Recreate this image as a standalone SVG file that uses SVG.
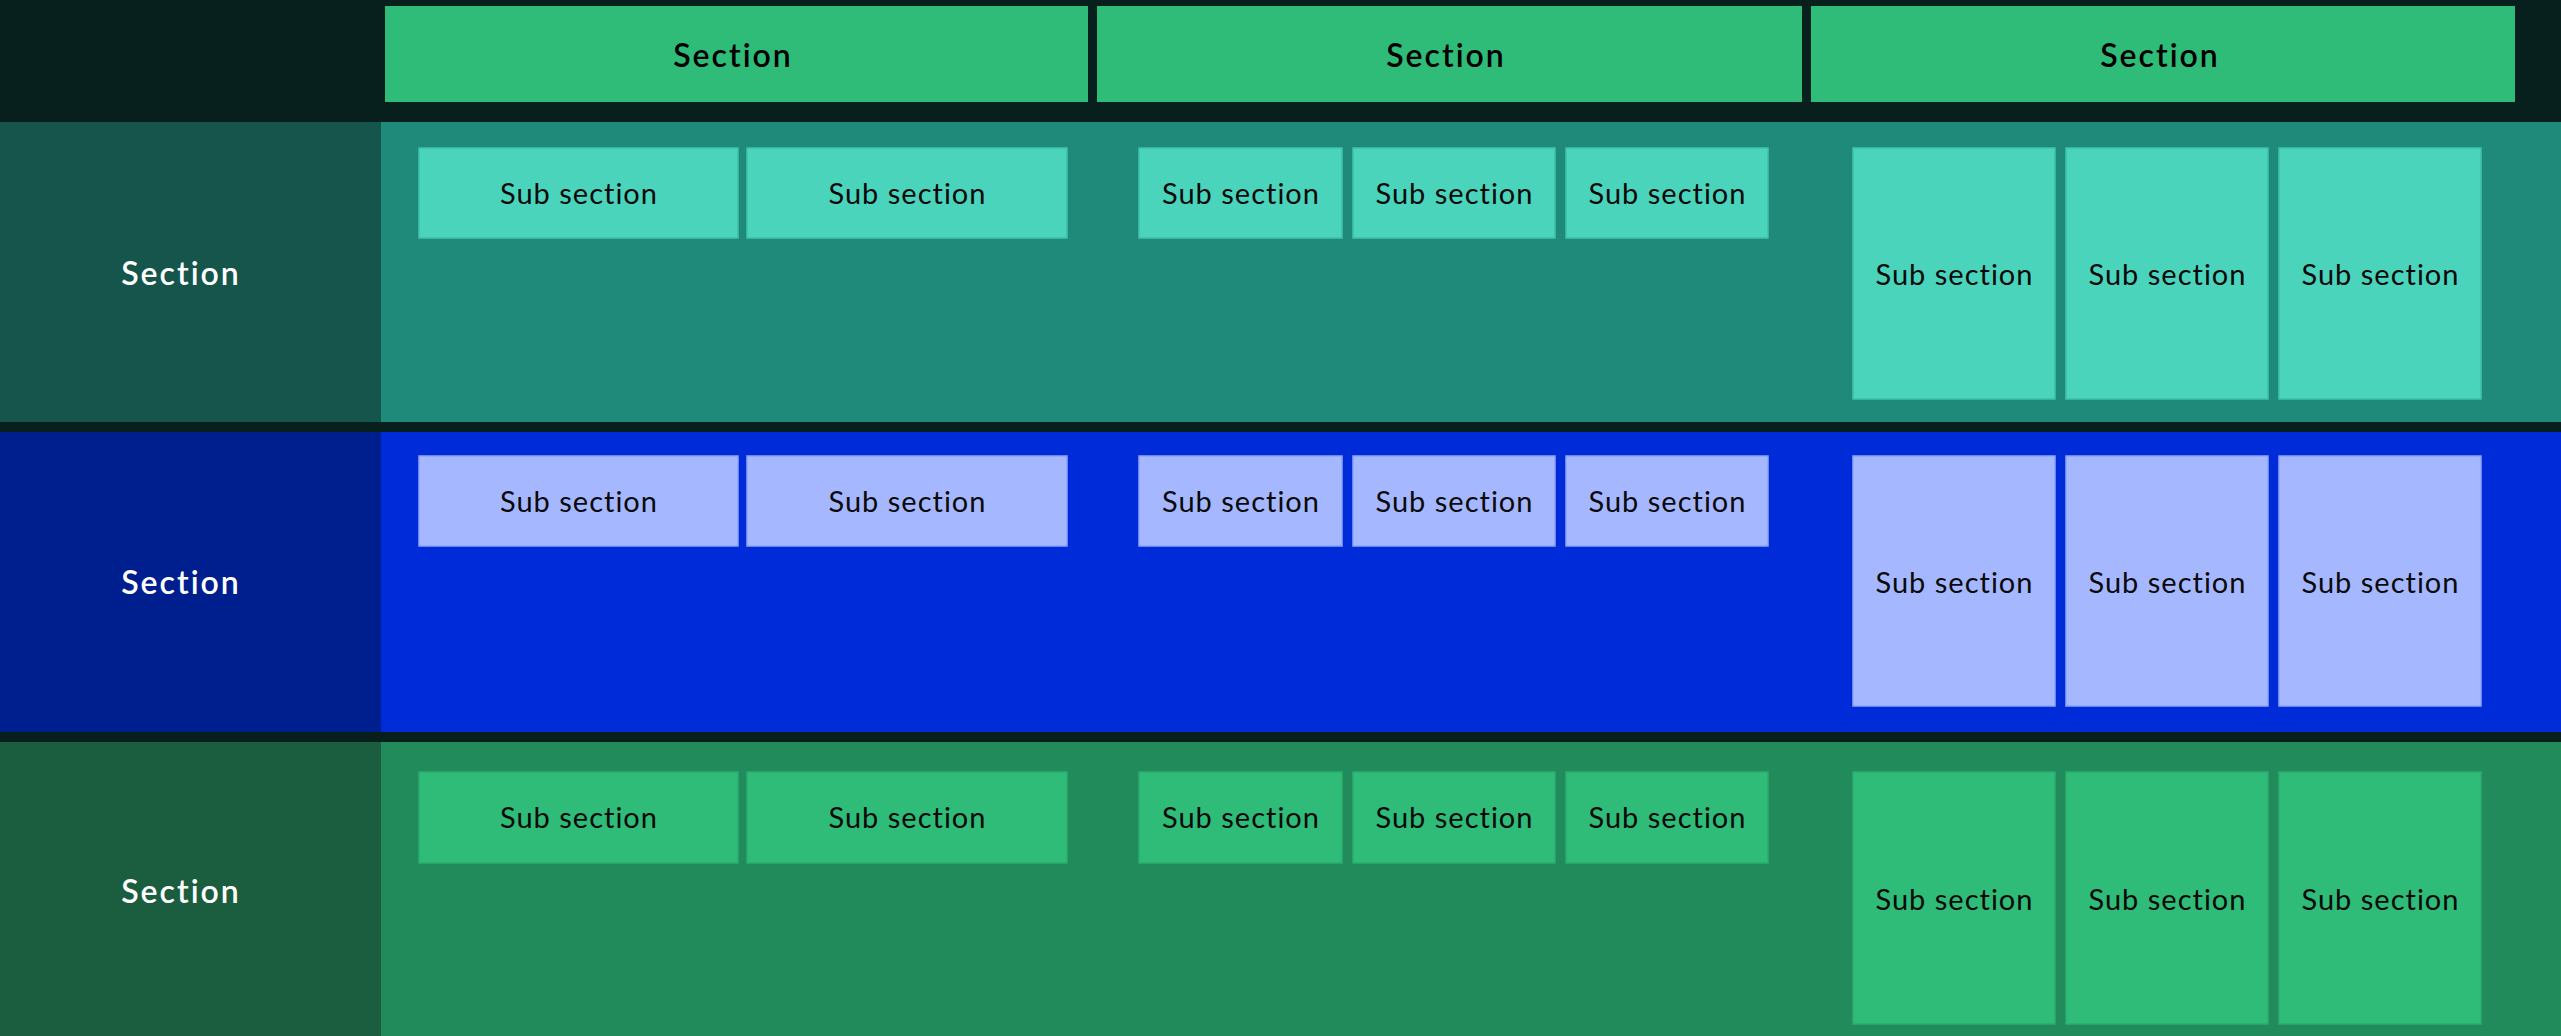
<svg xmlns="http://www.w3.org/2000/svg" width="2561" height="1036" viewBox="0 0 2561 1036">
<style>
.sec{font-family:"Lato","Liberation Sans",sans-serif;font-weight:600;font-size:32px;letter-spacing:2px;text-anchor:middle}
.sub{font-family:"Lato","Liberation Sans",sans-serif;font-weight:400;font-size:29px;letter-spacing:1px;fill:#0a0a0a;text-anchor:middle}
.hdr{fill:#2fbb78}
.b1{fill:#4ad4bc;stroke:#3fc2aa;stroke-width:1.5}
.b2{fill:#a5b8ff;stroke:#8ea4fb;stroke-width:1.5}
.b3{fill:#2fbb78;stroke:#2cad70;stroke-width:1.5}
</style>
<rect x="0" y="0" width="2561" height="1036" fill="#08201d"/>
<g id="header-1"><rect class="hdr" x="385" y="6" width="703" height="96"/><text class="sec" x="733" y="67" fill="#000">Section</text></g>
<g id="header-2"><rect class="hdr" x="1097" y="6" width="705" height="96"/><text class="sec" x="1446" y="67" fill="#000">Section</text></g>
<g id="header-3"><rect class="hdr" x="1811" y="6" width="704" height="96"/><text class="sec" x="2160" y="67" fill="#000">Section</text></g>

<g id="row-1">
<rect x="0" y="122" width="381" height="300" fill="#16554c"/>
<rect x="381" y="122" width="2180" height="300" fill="#208a7a"/>
<text class="sec" x="181" y="285" fill="#fff">Section</text>
</g>
<g id="row-2">
<rect x="0" y="432" width="381" height="300" fill="#001f8f"/>
<rect x="381" y="432" width="2180" height="300" fill="#002bd9"/>
<text class="sec" x="181" y="594" fill="#fff">Section</text>
</g>
<g id="row-3">
<rect x="0" y="742" width="381" height="294" fill="#1a5e3f"/>
<rect x="381" y="742" width="2180" height="294" fill="#228b5c"/>
<text class="sec" x="181" y="903" fill="#fff">Section</text>
</g>

<g id="r1-s1"><rect class="b1" x="419" y="148" width="319" height="90"/><text class="sub" x="579" y="204">Sub section</text></g>
<g id="r1-s2"><rect class="b1" x="747" y="148" width="320" height="90"/><text class="sub" x="907.5" y="204">Sub section</text></g>
<g id="r1-s3"><rect class="b1" x="1139" y="148" width="203" height="90"/><text class="sub" x="1241" y="204">Sub section</text></g>
<g id="r1-s4"><rect class="b1" x="1353" y="148" width="202" height="90"/><text class="sub" x="1454.5" y="204">Sub section</text></g>
<g id="r1-s5"><rect class="b1" x="1566" y="148" width="202" height="90"/><text class="sub" x="1667.5" y="204">Sub section</text></g>
<g id="r1-s6"><rect class="b1" x="1853" y="148" width="202" height="251"/><text class="sub" x="1954.5" y="285">Sub section</text></g>
<g id="r1-s7"><rect class="b1" x="2066" y="148" width="202" height="251"/><text class="sub" x="2167.5" y="285">Sub section</text></g>
<g id="r1-s8"><rect class="b1" x="2279" y="148" width="202" height="251"/><text class="sub" x="2380.5" y="285">Sub section</text></g>

<g id="r2-s1"><rect class="b2" x="419" y="456" width="319" height="90"/><text class="sub" x="579" y="512">Sub section</text></g>
<g id="r2-s2"><rect class="b2" x="747" y="456" width="320" height="90"/><text class="sub" x="907.5" y="512">Sub section</text></g>
<g id="r2-s3"><rect class="b2" x="1139" y="456" width="203" height="90"/><text class="sub" x="1241" y="512">Sub section</text></g>
<g id="r2-s4"><rect class="b2" x="1353" y="456" width="202" height="90"/><text class="sub" x="1454.5" y="512">Sub section</text></g>
<g id="r2-s5"><rect class="b2" x="1566" y="456" width="202" height="90"/><text class="sub" x="1667.5" y="512">Sub section</text></g>
<g id="r2-s6"><rect class="b2" x="1853" y="456" width="202" height="250"/><text class="sub" x="1954.5" y="593">Sub section</text></g>
<g id="r2-s7"><rect class="b2" x="2066" y="456" width="202" height="250"/><text class="sub" x="2167.5" y="593">Sub section</text></g>
<g id="r2-s8"><rect class="b2" x="2279" y="456" width="202" height="250"/><text class="sub" x="2380.5" y="593">Sub section</text></g>

<g id="r3-s1"><rect class="b3" x="419" y="772" width="319" height="91"/><text class="sub" x="579" y="828">Sub section</text></g>
<g id="r3-s2"><rect class="b3" x="747" y="772" width="320" height="91"/><text class="sub" x="907.5" y="828">Sub section</text></g>
<g id="r3-s3"><rect class="b3" x="1139" y="772" width="203" height="91"/><text class="sub" x="1241" y="828">Sub section</text></g>
<g id="r3-s4"><rect class="b3" x="1353" y="772" width="202" height="91"/><text class="sub" x="1454.5" y="828">Sub section</text></g>
<g id="r3-s5"><rect class="b3" x="1566" y="772" width="202" height="91"/><text class="sub" x="1667.5" y="828">Sub section</text></g>
<g id="r3-s6"><rect class="b3" x="1853" y="772" width="202" height="252"/><text class="sub" x="1954.5" y="910">Sub section</text></g>
<g id="r3-s7"><rect class="b3" x="2066" y="772" width="202" height="252"/><text class="sub" x="2167.5" y="910">Sub section</text></g>
<g id="r3-s8"><rect class="b3" x="2279" y="772" width="202" height="252"/><text class="sub" x="2380.5" y="910">Sub section</text></g>
<g id="connectors"/>
</svg>
